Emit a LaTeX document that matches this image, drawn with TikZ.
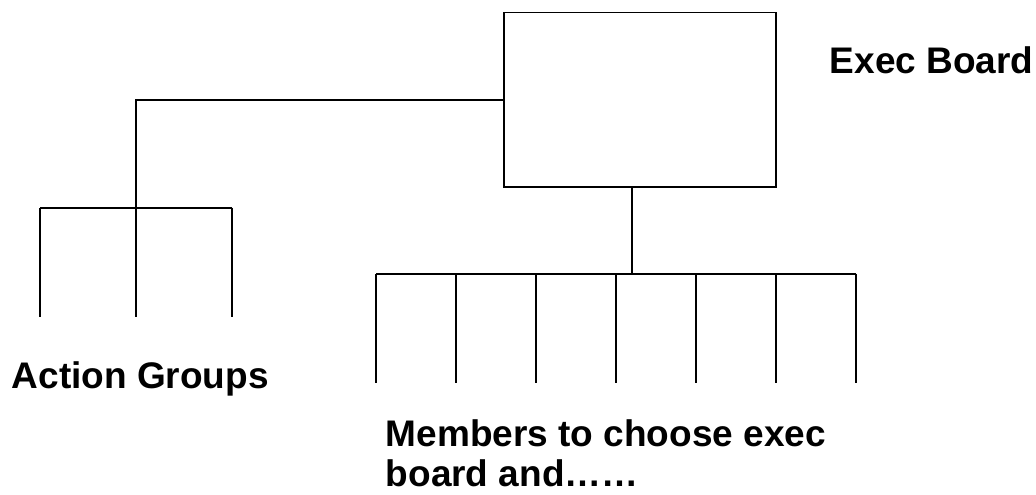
\documentclass[tikz,border=0pt]{standalone}
\usepackage{fontspec}
\setmainfont{Liberation Sans}
\usetikzlibrary{positioning}

\begin{document}
\begin{tikzpicture}[x=1pt,y=-1pt,line width=1.6pt,
  caption/.style={font=\fontsize{37}{40}\selectfont\bfseries,inner sep=0pt,align=left}]
  \useasboundingbox (0,0) rectangle (1036,495);

  \node[draw,minimum width=272pt,minimum height=174pt,inner sep=0pt] (Board) at (640,99.7) {};
  \node[caption,anchor=base west] (BoardText)  at (829,74)  {Exec Board};
  \node[caption,anchor=base west] (ActText)    at (11,388)  {Action Groups};
  \node[caption,anchor=base west] (MemText)    at (385,486) {Members to choose exec\\board and\dots\dots};

  % action groups
  \coordinate (ActTop) at (136,207.7);
  \draw (Board.west) -| (ActTop);
  \foreach \x [count=\i] in {40,136,232} {
    \coordinate (Act\i)    at (\x,207.7);
    \coordinate (ActEnd\i) at (\x,317);
    \draw (Act\i) -- (ActEnd\i);
  }
  \draw (Act1) -- (Act3);

  % members
  \coordinate (MemTop) at (632,273.7);
  \draw (MemTop |- Board.south) -- (MemTop);
  \foreach \x [count=\i] in {376,456,...,856} {
    \coordinate (Mem\i)    at (\x,273.7);
    \coordinate (MemEnd\i) at (\x,382.5);
    \draw (Mem\i) -- (MemEnd\i);
  }
  \draw (Mem1) -- (Mem7);
\end{tikzpicture}
\end{document}
